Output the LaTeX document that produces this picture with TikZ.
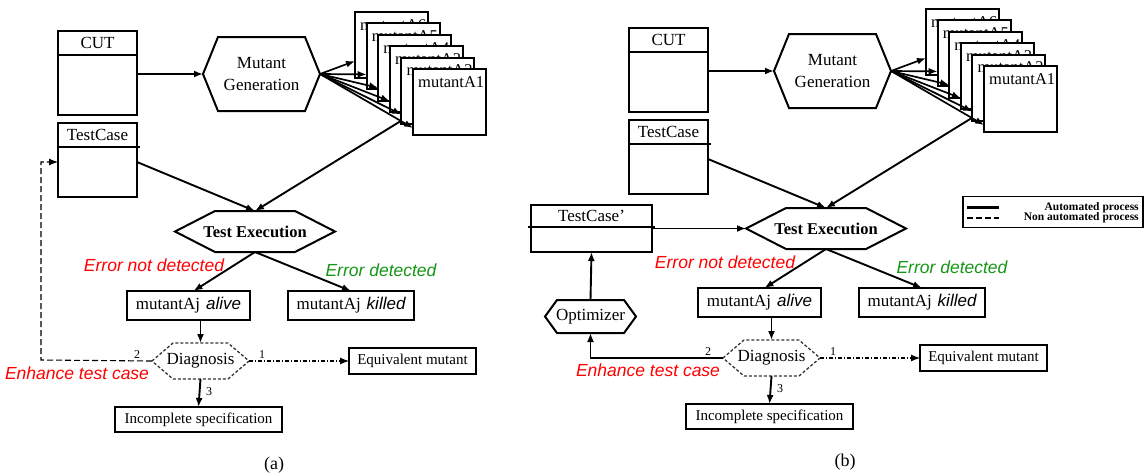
\documentclass[tikz,border=0pt]{standalone}
\usepackage{fontspec}
\setmainfont{Liberation Serif}
\setsansfont{Liberation Sans}
\usetikzlibrary{positioning,arrows.meta}
\definecolor{okgreen}{RGB}{20,150,20}
\newcommand\fs[1]{\fontsize{#1}{#1}\selectfont}
\tikzset{
  box/.style     = {draw, line width=2.1pt, fill=white, inner sep=0pt,
                    outer sep=0pt, font=\fs{17}},
  hexnode/.style = {inner sep=0pt, outer sep=0pt, align=center,
                    font=\fontsize{17}{22}\selectfont},
  hexline/.style = {line width=2pt, line join=miter},
  mutbox/.style  = {box, line width=1.9pt, anchor=north west, minimum width=73pt, minimum height=66pt},
  arr/.style     = {line width=1.9pt, -{Latex[length=9pt,width=7pt]}},
  dasharr/.style = {arr, line width=1.1pt, dash pattern=on 6pt off 3pt},
  dotarr/.style  = {arr, line width=1.1pt, dash pattern=on 4pt off 2pt on 1pt off 2pt},
  note/.style    = {font=\sffamily\itshape\fs{17.5}},
  num/.style     = {font=\fs{12}, inner sep=0pt},
  legtxt/.style  = {font=\bfseries\fs{11.5}, inner sep=0pt}
}
\newcommand\hexout[3][]{\draw[hexline,#1] (#2.west) -- ([xshift=#3]#2.north west)
  -- ([xshift=-#3]#2.north east) -- (#2.east) -- ([xshift=-#3]#2.south east)
  -- ([xshift=#3]#2.south west) -- cycle;}

\begin{document}
\begin{tikzpicture}[x=1pt,y=-1pt]
\useasboundingbox (0,0) rectangle (1146,475);

\foreach \p/\dx/\dy in {a/0/0, b/571/-3}{
\begin{scope}[shift={(\dx,\dy)}, name prefix=\p-]
  % class under test and test case
  \node[box, minimum width=79pt, minimum height=24pt] (cut) at (97.5,43) {CUT};
  \node[box, minimum width=79pt, minimum height=60pt, below=0pt of cut] (cutb) {};
  \node[box, minimum width=79pt, minimum height=24pt] (tc) at (97.5,135) {TestCase};
  \node[box, minimum width=79pt, minimum height=50pt, below=0pt of tc] (tcb) {};
  \draw[line width=2.1pt] (tc.south east) -- ++(3pt,0pt);

  \node[hexnode, minimum width=117pt, minimum height=74pt] (mg) at (261.5,74) {Mutant\\Generation};
  \hexout{mg}{15pt}

  % stack of mutants
  \foreach \k in {6,...,1}
    \node[mutbox, label={[anchor=west, inner sep=0pt, font=\fs{16.5}, xshift=5pt, yshift=-13pt]north west:mutantA\k}]
      (m\k) at ({413-11.6*(\k-1)},{69-11.4*(\k-1)}) {};
  \foreach \k in {1,...,6}
    \draw[arr, line width=1.7pt] (mg.east) -- ([yshift={5+2*\k}]m\k.south west);

  \node[hexnode, font=\bfseries\fs{16.5}, minimum width=160pt, minimum height=41pt] (te) at (255,231.5) {Test Execution};
  \hexout{te}{40pt}

  \node[box, minimum width=123pt, minimum height=29pt] (alive) at (188.5,305.5)
    {mutantAj\hspace{6pt}{\sffamily\itshape alive}};
  \node[box, minimum width=126pt, minimum height=29pt] (killed) at (351,305.5)
    {mutantAj\hspace{6pt}{\sffamily\itshape killed}};

  \node[hexnode, minimum width=97pt, minimum height=36pt] (diag) at (200.5,361) {Diagnosis};
  \hexout[line width=1.3pt, black!80, dash pattern=on 3pt off 2pt]{diag}{21pt}

  \node[box, font=\fs{15}, minimum width=127pt, minimum height=26pt] (eq) at (412.5,361) {Equivalent mutant};
  \node[box, font=\fs{15}, minimum width=167pt, minimum height=25pt] (spec) at (198.5,419.5) {Incomplete specification};

  \draw[arr] (cutb.east |- mg) -- (mg.west);
  \draw[arr] ([yshift=10pt]tcb.east) -- (te.north);
  \draw[arr] ([yshift=3pt]m2.south west) -- (te.north);
  \draw[arr] (te.south) -- ([xshift=5pt]alive.north);
  \draw[arr] (te.south) -- (killed.north);
  \draw[arr] (alive.south -| diag) -- (diag.north);
  \draw[arr] (diag.south) -- (spec.north);
  \draw[dotarr] (diag.east) -- (eq.west);

  \node[note, red] (notdet) at (154,265) {Error not detected};
  \node[note, okgreen] (det) at (381,270) {Error detected};
  \node[note, red] (enh) at (77,373) {Enhance test case};
  \node[num] (n2) at (137,355) {2};
  \node[num] (n1) at (262,355) {1};
  \node[num] (n3) at (209,392) {3};
  \node[font=\fs{18}] (cap) at (274,465) {(\p)};
\end{scope}
}

% (a) test case enhanced by hand
\coordinate (a-back) at (41,360);
\draw[dasharr] (a-diag.west) -- (a-back) |- ([yshift=10pt]a-tcb.west);

% (b) test case enhanced by the optimizer
\node[box, minimum width=121pt, minimum height=22pt] (b-tcp) at (591.5,216) {TestCase’};
\node[box, minimum width=121pt, minimum height=25pt, below=0pt of b-tcp] (b-tcpb) {};
\draw[line width=2.1pt] ([xshift=-3pt]b-tcp.south west) -- ([xshift=3pt]b-tcp.south east);
\node[hexnode, minimum width=91pt, minimum height=33pt] (b-opt) at (590.5,316.5) {Optimizer};
\hexout{b-opt}{12pt}
\draw[arr] (b-diag.west) -| (b-opt.south);
\draw[arr] (b-opt.north) -- (b-tcpb.south);
\draw[arr] (b-tcpb.north east |- b-te.west) -- (b-te.west);

% legend
\node[draw, line width=1.8pt, minimum width=180pt, minimum height=31pt] (leg) at (1053,212) {};
\draw[line width=2.4pt] ([xshift=5pt,yshift=4.5pt]leg.west) -- ++(32pt,0pt);
\draw[line width=2.4pt, dash pattern=on 6pt off 3pt] ([xshift=5pt,yshift=-6pt]leg.west) -- ++(32pt,0pt);
\node[legtxt, anchor=east] (leg1) at ([xshift=-5pt,yshift=4.5pt]leg.east) {Automated process};
\node[legtxt, anchor=east] (leg2) at ([xshift=-5pt,yshift=-6pt]leg.east) {Non automated process};
\end{tikzpicture}
\end{document}
